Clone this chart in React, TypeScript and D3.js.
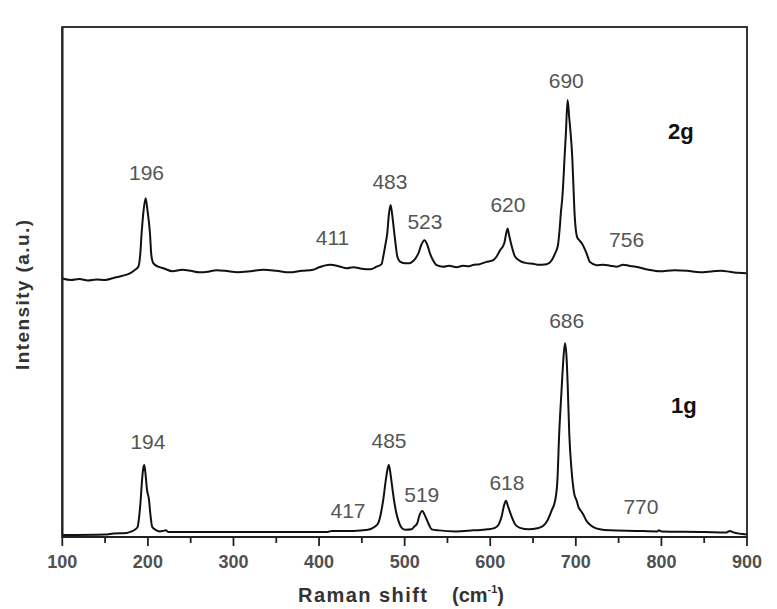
import React from "react";
import * as d3 from "d3";

// Sample 1g spectrum (Raman shift cm-1, intensity a.u.)
const shift1g = [100, 150, 160, 175, 181, 186, 188, 190, 191.6, 193, 194.8, 195.8, 197, 199, 201.3, 203, 205, 209, 214, 218, 221, 224, 260, 300, 350, 410, 415, 440, 457, 465, 469, 471, 473, 475, 478, 480, 481.5, 483, 485, 487.5, 490, 492.5, 496.5, 501, 508, 511, 514.7, 517, 520.6, 524, 527.6, 531.6, 540, 560, 580, 597, 605.5, 610, 613.3, 616, 618.3, 621, 625, 629, 634.7, 645, 655, 662, 667, 672, 676, 678.5, 680.6, 683, 685, 687.3, 689, 690.5, 692.3, 695, 698, 701, 703, 706, 709, 712, 716, 720, 728, 740, 770, 795, 797, 800, 850, 876, 880, 884, 900];
const intensity1g = [0.4, 0.5, 0.7, 0.8, 1.1, 1.6, 2.0, 4.3, 7.3, 10.8, 13.7, 14.1, 12.7, 9.2, 7.3, 4.3, 2.0, 1.4, 1.1, 1.2, 1.3, 1.0, 1.0, 1.0, 1.0, 1.0, 1.2, 1.2, 1.4, 2.0, 2.7, 3.7, 5.3, 7.3, 11.2, 13.3, 14.1, 12.9, 10.4, 7.3, 4.9, 3.3, 1.8, 1.4, 1.5, 2.0, 2.7, 4.1, 5.1, 4.1, 2.7, 1.5, 1.3, 1.1, 1.3, 1.5, 1.8, 2.5, 4.0, 6.1, 7.1, 5.9, 4.0, 2.5, 1.8, 1.5, 1.7, 2.2, 3.3, 5.3, 7.3, 11.2, 20.4, 27.8, 33.7, 38.0, 35.7, 29.8, 20.4, 13.1, 8.6, 7.1, 5.9, 5.1, 4.3, 3.3, 2.5, 2.0, 1.5, 1.3, 1.2, 1.1, 1.3, 1.1, 1.0, 0.9, 1.2, 0.9, 0.5];

// Sample 2g spectrum
const shift2g = [100, 110, 120, 130, 140, 150, 160, 170, 179, 185, 188.8, 191, 192.7, 195, 197.4, 199.5, 202.4, 204, 206.3, 212, 218, 229, 240, 250, 260, 270, 280, 290, 305, 320, 335, 350, 365, 380, 393, 400, 412.7, 425, 432, 440, 450, 460, 467.3, 473, 475, 477.5, 479.7, 481.5, 483.6, 485.5, 487.9, 489.5, 491.4, 494.5, 500, 506, 510, 513, 516, 519.5, 523, 526.5, 529.6, 533, 537.4, 545, 552, 560.7, 568, 575, 581, 587.6, 595, 603.5, 607.5, 611, 616.4, 620.3, 622, 624.2, 628.9, 635, 642.5, 650, 655, 666, 672, 676, 679, 681, 682.5, 684.5, 686.9, 688.4, 690.4, 692.3, 693.9, 695.8, 697.6, 698.5, 700, 701.5, 704, 707, 712.6, 716.5, 724.3, 732, 740, 748, 755.4, 762, 770, 785, 798.2, 815, 830, 845, 860.5, 870, 880, 890, 899.5];
const intensity2g = [50.7, 50.4, 50.6, 50.3, 50.5, 50.4, 50.8, 51.2, 51.7, 52.4, 53.0, 55.3, 59.6, 64.1, 66.4, 64.1, 59.6, 55.3, 53.7, 53.0, 52.7, 52.1, 52.4, 52.2, 51.9, 52.0, 52.3, 52.2, 51.9, 52.1, 52.4, 52.2, 51.9, 52.2, 52.4, 52.9, 53.4, 53.0, 52.7, 52.9, 52.6, 52.5, 53.0, 53.5, 55.0, 57.3, 59.6, 63.1, 65.1, 63.1, 59.6, 57.3, 55.0, 54.0, 53.7, 53.7, 54.1, 54.7, 55.6, 57.3, 58.2, 57.3, 55.6, 54.3, 53.3, 53.0, 53.2, 52.9, 53.2, 53.1, 53.4, 53.5, 53.9, 54.3, 55.0, 56.1, 57.6, 60.5, 59.2, 57.6, 55.0, 54.1, 53.7, 53.6, 53.4, 53.5, 54.3, 55.7, 57.1, 60.2, 63.5, 67.1, 74.6, 79.2, 85.7, 82.2, 79.2, 74.6, 67.1, 63.5, 60.2, 58.8, 58.2, 57.6, 55.6, 53.9, 53.3, 53.4, 53.2, 53.0, 53.4, 53.2, 53.0, 52.4, 52.1, 52.3, 52.2, 51.9, 52.1, 52.2, 52.0, 51.8, 51.7];

const xTicks = [100, 200, 300, 400, 500, 600, 700, 800, 900];
const xMinorTicks = [150, 250, 350, 450, 550, 650, 750, 850];

// Peak annotations: text, label x (cm-1), label y (a.u.)
const peakText = ["196", "411", "483", "523", "620", "690", "756", "194", "417", "485", "519", "618", "686", "770"];
const peakLabelX = [198.4, 415.7, 482.8, 523.7, 620.7, 688.8, 759.3, 200.1, 433.8, 481.7, 520.0, 619.5, 689.3, 776.1];
const peakLabelY = [71.5, 58.7, 69.7, 61.8, 65.1, 89.5, 58.3, 18.8, 5.2, 18.9, 8.4, 10.7, 42.4, 6.0];

const sampleNames = ["2g", "1g"];
const sampleLabelX = [822.8, 826.1];
const sampleLabelY = [79.7, 25.9];

const FONT = "'Liberation Sans', Arial, Helvetica, sans-serif";

export default function App() {
  const W = 777;
  const H = 609;
  const left = 62.3, right = 747, top = 27, bottom = 537;
  const x = d3.scaleLinear().domain([100, 900]).range([left, right]);
  const y = d3.scaleLinear().domain([0, 100]).range([bottom, top]);

  const line = d3
    .line<[number, number]>()
    .x((d) => x(d[0]))
    .y((d) => y(d[1]))
    .curve(d3.curveMonotoneX);

  const d1 = line(shift1g.map((s, i) => [s, intensity1g[i]] as [number, number])) || "";
  const d2 = line(shift2g.map((s, i) => [s, intensity2g[i]] as [number, number])) || "";

  return (
    <div style={{ position: "absolute", left: 0, top: 0 }}>
      <svg width={W} height={H} style={{ display: "block", background: "#fff" }}>
        <path d={d2} fill="none" stroke="#111" strokeWidth={2} strokeLinejoin="round" />
        <path d={d1} fill="none" stroke="#111" strokeWidth={2} strokeLinejoin="round" />

        {/* frame */}
        <rect x={left} y={top} width={right - left} height={bottom - top} fill="none" stroke="#222" strokeWidth={1.8} />
        <line x1={left} x2={left} y1={top} y2={bottom} stroke="#222" strokeWidth={2.2} />
        <line x1={left} x2={right} y1={bottom} y2={bottom} stroke="#222" strokeWidth={2.2} />

        {/* ticks */}
        {xTicks.map((t) => (
          <line key={"M" + t} x1={x(t)} x2={x(t)} y1={bottom} y2={bottom + 9} stroke="#222" strokeWidth={1.8} />
        ))}
        {xMinorTicks.map((t) => (
          <line key={"m" + t} x1={x(t)} x2={x(t)} y1={bottom} y2={bottom + 6} stroke="#222" strokeWidth={1.8} />
        ))}
        {xTicks.map((t) => (
          <text key={"t" + t} x={x(t)} y={568} textAnchor="middle" fontFamily={FONT} fontWeight="bold" fontSize={18} fill="#505050">
            {t}
          </text>
        ))}

        {/* axis titles */}
        <text x={298} y={601.5} fontFamily={FONT} fontWeight="bold" fontSize={20} fill="#333">
          <tspan textLength={129} lengthAdjust="spacing">Raman shift</tspan>
          <tspan x={452}>(cm</tspan>
          <tspan dy={-9} fontSize={11}>-1</tspan>
          <tspan dy={9}>)</tspan>
        </text>
        <text
          transform={`translate(29,295) rotate(-90)`}
          textAnchor="middle"
          fontFamily={FONT}
          fontWeight="bold"
          fontSize={19}
          fill="#333"
          textLength={150}
          lengthAdjust="spacing"
        >
          Intensity (a.u.)
        </text>

        {/* peak labels */}
        {peakText.map((t, i) => (
          <text key={"p" + i} x={x(peakLabelX[i])} y={y(peakLabelY[i]) + 7.5} textAnchor="middle" fontFamily={FONT} fontSize={21} fill="#555">
            {t}
          </text>
        ))}
        {sampleNames.map((t, i) => (
          <text key={"s" + i} x={x(sampleLabelX[i])} y={y(sampleLabelY[i]) + 8} textAnchor="middle" fontFamily={FONT} fontWeight="bold" fontSize={22} fill="#111">
            {t}
          </text>
        ))}
      </svg>
    </div>
  );
}
